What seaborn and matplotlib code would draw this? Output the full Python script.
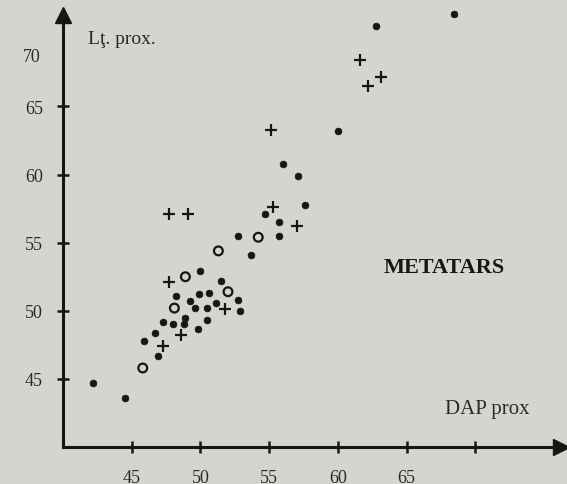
import matplotlib
matplotlib.use("Agg")
import matplotlib.pyplot as plt
import numpy as np
import pandas as pd
import seaborn as sns

# Metatars: Lt. prox. vs DAP prox
dots_x = [56.0, 57.1, 57.6, 54.7, 55.7, 52.7, 55.7, 53.7, 50.0, 51.5,
          48.2, 49.9, 50.6, 49.2, 51.1, 52.7, 49.6, 50.5, 52.9, 47.3,
          48.0, 48.9, 48.8, 50.5, 49.8, 46.7, 45.9, 46.9, 42.2, 44.5,
          68.4, 62.8, 60.0]
dots_y = [60.8, 59.9, 57.8, 57.1, 56.5, 55.5, 55.5, 54.1, 52.9, 52.2,
          51.1, 51.2, 51.3, 50.7, 50.6, 50.8, 50.2, 50.2, 50.0, 49.2,
          49.0, 49.5, 49.0, 49.3, 48.7, 48.4, 47.8, 46.7, 44.7, 43.6,
          71.8, 70.9, 63.2]

rings_x = [54.2, 51.3, 48.9, 52.0, 48.1, 45.8]
rings_y = [55.4, 54.4, 52.5, 51.4, 50.2, 45.8]

plus_x = [55.3, 57.0, 47.7, 49.1, 47.7, 51.8, 48.6, 47.3, 61.6, 63.1, 62.2, 55.1]
plus_y = [57.6, 56.2, 57.1, 57.1, 52.1, 50.1, 48.2, 47.4, 68.4, 67.2, 66.5, 63.3]

xticks = [45, 50, 55, 60, 65, 70]
xtick_labels = ["45", "50", "55", "60", "65", ""]
yticks = [45, 50, 55, 60, 65]
ytick_labels = ["45", "50", "55", "60", "65"]

dots = pd.DataFrame({"DAP": dots_x, "Lt": dots_y})
rings = pd.DataFrame({"DAP": rings_x, "Lt": rings_y})
plus = pd.DataFrame({"DAP": plus_x, "Lt": plus_y})

sns.set_theme(style="ticks")
plt.rcParams["font.family"] = ["Liberation Serif", "DejaVu Serif"]

paper = "#d5d5d0"
ink = "#161616"

fig = plt.figure(figsize=(5.67, 4.85), dpi=100, facecolor=paper)
ax = fig.add_axes([63 / 567, 37 / 485, 498 / 567, 432 / 485])
ax.set_facecolor(paper)
ax.set_xlim(40, 40 + 498 / 13.75)
ax.set_ylim(40, 40 + 432 / 13.62)

sns.scatterplot(data=dots, x="DAP", y="Lt", ax=ax, s=24, color=ink,
                edgecolor=ink, linewidth=0.5, clip_on=False)
sns.scatterplot(data=rings, x="DAP", y="Lt", ax=ax, s=40, facecolor="none",
                edgecolor=ink, linewidth=1.6, clip_on=False)
sns.scatterplot(data=plus, x="DAP", y="Lt", ax=ax, s=75, marker="+",
                color=ink, linewidth=1.6, clip_on=False)

# axes drawn as arrows
for side in ["top", "right"]:
    ax.spines[side].set_visible(False)
for side in ["left", "bottom"]:
    ax.spines[side].set_linewidth(2.2)
    ax.spines[side].set_color(ink)
ax.plot(1, 0, ">", color=ink, ms=11, transform=ax.transAxes, clip_on=False)
ax.plot(0, 1, "^", color=ink, ms=11, transform=ax.transAxes, clip_on=False)

ax.set_xticks(xticks, labels=xtick_labels)
ax.set_yticks(yticks, labels=ytick_labels)
ax.tick_params(direction="inout", length=9, width=1.8, color=ink,
               labelsize=13, labelcolor="#2a2a2a")
ax.tick_params(axis="x", pad=11)
ax.tick_params(axis="y", pad=10)
ax.annotate("70", xy=(0, 68.7), xycoords=ax.get_yaxis_transform(),
            xytext=(-16, 0), textcoords="offset points", ha="right",
            va="center", fontsize=13, color="#2a2a2a")

ax.set_xlabel("")
ax.set_ylabel("")
ax.text(41.8, 70.0, "Lţ. prox.", fontsize=14, color="#2a2a2a", va="center")
ax.text(67.8, 42.8, "DAP prox", fontsize=15, color="#2a2a2a", va="center")
ax.text(63.3, 53.25, "METATARS", fontsize=16, fontweight="bold",
        color=ink, va="center")

fig.savefig("out.png", dpi=100, facecolor=paper)
